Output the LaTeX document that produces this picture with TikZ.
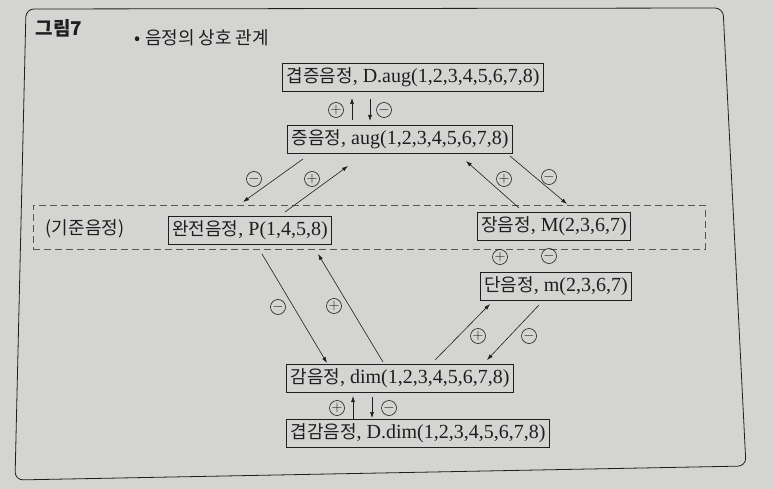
\documentclass[tikz,border=0pt]{standalone}
\usepackage{fontspec}
\setmainfont{Liberation Serif}
\newfontfamily\kr{Noto Sans CJK KR}[Scale=0.9]
\newfontfamily\krhead{Noto Sans CJK KR}
\usetikzlibrary{arrows.meta}

\definecolor{paper}{RGB}{212,212,210}
\definecolor{ink}{RGB}{30,30,30}
\definecolor{dashink}{RGB}{85,85,85}

\tikzstyle{interval}=[draw=ink,line width=0.9pt,rectangle,minimum height=28pt,inner xsep=4pt,inner ysep=2pt,text=ink,font=\fontsize{20}{24}\selectfont]
\tikzstyle{basebox}=[draw=dashink,line width=0.8pt,dash pattern=on 7pt off 4pt,minimum width=672pt,minimum height=44pt,inner sep=0pt]
\tikzstyle{move}=[draw=ink,line width=0.6pt,-{Latex[length=6pt,width=4pt]}]
\tikzstyle{sgn}=[draw=ink,circle,line width=0.6pt,minimum size=15pt,inner sep=0pt,text=ink,font=\fontsize{14}{14}\selectfont]
\newcommand{\pxscale}{1pt}

\begin{document}
\begin{tikzpicture}[x=\pxscale, y=-\pxscale]
    % paper and frame
    \fill[paper] (0,0) rectangle (773,489);
    \useasboundingbox (0,0) rectangle (773,489);
    \draw[ink, line width=0.8pt, rounded corners=8pt] (26,9) -- (723,8) -- (746,466) -- (15,480) -- cycle;
    \node[text=ink, font=\krhead\bfseries\fontsize{19}{22}\selectfont] (fig) at (59,28) {그림7};
    \node[text=ink, font=\krhead\fontsize{18}{22}\selectfont] (head) at (202,38) {• 음정의 상호 관계};
    % the dashed band of the reference intervals
    \node[basebox] (base) at (369,227) {};
    \node[text=ink, font=\kr\fontsize{20}{24}\selectfont] (baselabel) at (85,229) {(기준음정)};
    % First we draw the intervals
    \foreach \pos/\name/\kor/\lat in {{(413,77)/daug/겹증음정/{D.aug(1,2,3,4,5,6,7,8)}},
        {(400,139)/aug/증음정/{aug(1,2,3,4,5,6,7,8)}}, {(250,230)/perf/완전음정/{P(1,4,5,8)}},
        {(554,226)/maj/장음정/{M(2,3,6,7)}}, {(556,286)/mnr/단음정/{m(2,3,6,7)}},
        {(400,378)/dim/감음정/{dim(1,2,3,4,5,6,7,8)}}, {(418,433)/ddim/겹감음정/{D.dim(1,2,3,4,5,6,7,8)}}}
        \node[interval] (\name) at \pos {{\kr\kor}, \lat};
    % Connect intervals with moves
    \draw[move] ([shift={(-48,-19)}]aug.center) -- ([shift={(-61,21)}]daug.center);
    \draw[move] ([shift={(-43,22)}]daug.center) -- ([shift={(-30,-18)}]aug.center);
    \draw[move] ([shift={(-97,20)}]aug.center) -- ([shift={(-126,-25)}]base.center);
    \draw[move] ([shift={(-84,-15)}]base.center) -- ([shift={(-52,27)}]aug.center);
    \draw[move] ([shift={(150,-19)}]base.center) -- ([shift={(66,22)}]aug.center);
    \draw[move] ([shift={(110,17)}]aug.center) -- ([shift={(198,-23)}]base.center);
    \draw[move] ([shift={(12,24)}]perf.center) -- ([shift={(-73,-15)}]dim.center);
    \draw[move] ([shift={(-17,-16)}]dim.center) -- ([shift={(68,24)}]perf.center);
    \draw[move] ([shift={(35,-18)}]dim.center) -- ([shift={(-66,18)}]mnr.center);
    \draw[move] ([shift={(-17,19)}]mnr.center) -- ([shift={(87,-18)}]dim.center);
    \draw[move] ([shift={(-65,-13)}]ddim.center) -- ([shift={(-47,18)}]dim.center);
    \draw[move] ([shift={(-28,19)}]dim.center) -- ([shift={(-46,-15)}]ddim.center);
    % and the signs
    \foreach \pos/\s [count=\i] in {{(336,110)/+}, {(384,110)/-}, {(254,179)/-}, {(312,179)/+},
        {(504,179)/+}, {(549,177)/-}, {(500,257)/+}, {(549,256)/-}, {(278,307)/-},
        {(334,306)/+}, {(478,336)/+}, {(529,336)/-}, {(337,408)/+}, {(389,408)/-}}
        \node[sgn] (sgn\i) at \pos {$\s$};
\end{tikzpicture}
\end{document}
